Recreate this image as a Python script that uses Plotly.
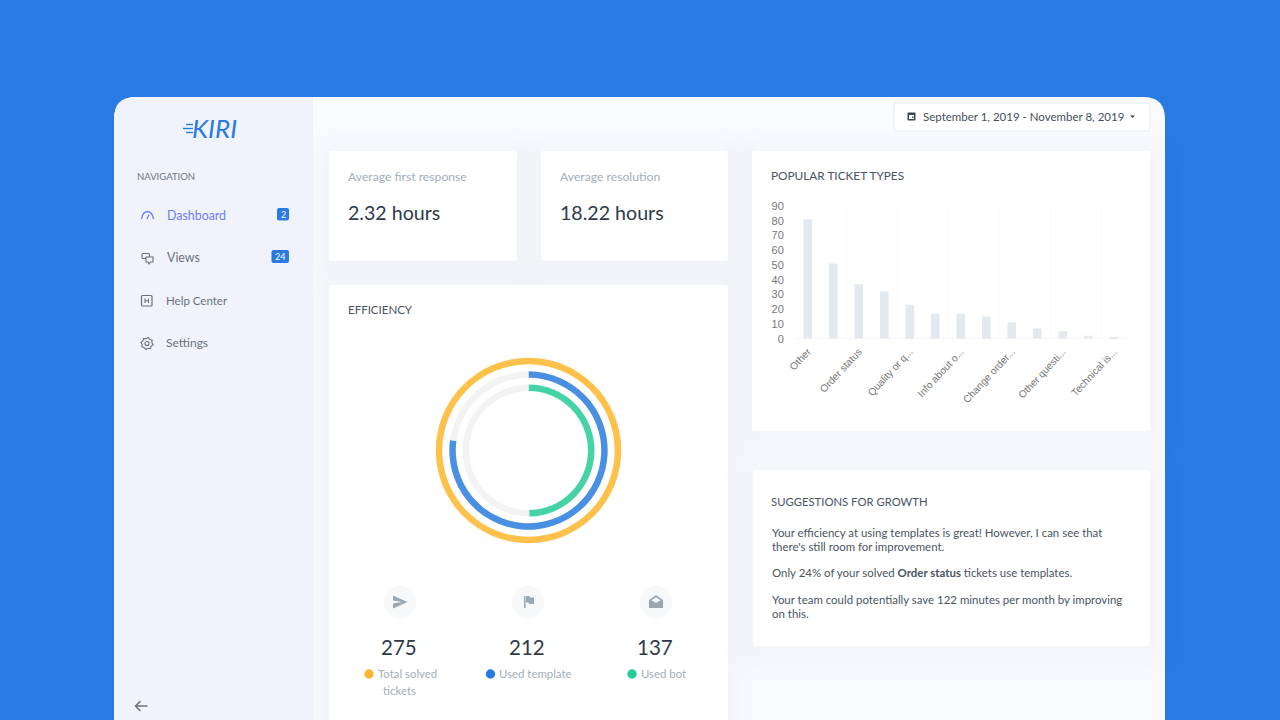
import math
import plotly.graph_objects as go

# popular ticket types (only every other label is shown on the axis)
ticket_labels = ['Other', '', 'Order status', '', 'Quality or q...', '', 'Info about o...', '',
                 'Change order...', '', 'Other questi...', '', 'Technical is...']
ticket_counts = [81, 51, 37, 32, 23, 17, 17, 15, 11, 7, 5, 2, 1]
y_ticks = [0, 10, 20, 30, 40, 50, 60, 70, 80, 90]

# efficiency rings, outer to inner
ring_names = ['Total solved tickets', 'Used template', 'Used bot']
ring_values = [275, 212, 137]
ring_total = 275

BLUE = '#2A7AE4'
FONT = 'Lato'
DARK = '#2F3A4A'
MID = '#4A5462'
GREY = '#A3AEB9'
W, H = 1280, 720

shapes = []
notes = []


def rrect(x0, y0, x1, y1, r, r_bottom=None):
    rb = r if r_bottom is None else r_bottom
    return (f'M{x0+r},{y0} L{x1-r},{y0} Q{x1},{y0} {x1},{y0+r} L{x1},{y1-rb} Q{x1},{y1} {x1-rb},{y1} '
            f'L{x0+rb},{y1} Q{x0},{y1} {x0},{y1-rb} L{x0},{y0+r} Q{x0},{y0} {x0+r},{y0} Z')


def path(d, fill=None, line=None, width=1.5, opacity=1):
    shapes.append(dict(type='path', path=d, xref='x', yref='y', layer='below', opacity=opacity,
                       fillcolor=fill or 'rgba(0,0,0,0)',
                       line=dict(color=line or 'rgba(0,0,0,0)', width=width if line else 0)))


def circle(cx, cy, r, fill=None, line=None, width=1.5):
    shapes.append(dict(type='circle', x0=cx-r, x1=cx+r, y0=cy-r, y1=cy+r, xref='x', yref='y', layer='below',
                       fillcolor=fill or 'rgba(0,0,0,0)',
                       line=dict(color=line or 'rgba(0,0,0,0)', width=width if line else 0)))


def label(x, y, text, size=13, color=MID, anchor='left', font=FONT):
    notes.append(dict(x=x - 0.8, y=y - 0.7, xref='x', yref='y', text=text, showarrow=False, xanchor=anchor,
                      yanchor='middle', align=anchor, borderpad=0, font=dict(family=font, size=size, color=color)))


def card(x0, y0, x1, y1):
    for grow in (30, 24, 18, 12, 7, 3):
        path(rrect(x0-grow, y0-grow+5, x1+grow, y1+grow+5, 6+grow), fill='#4A5A70', opacity=0.005)
    path(rrect(x0, y0, x1, y1, 3), fill='white')


# window
path(rrect(114, 97, 1165, 760, 22), fill='#F9FBFE')

card(329, 151, 517, 261)
card(541, 151, 728, 261)
card(329, 285, 728, 780)
card(752, 151, 1150, 431)
card(753, 470, 1150, 646)

# sidebar goes over the card shadows
path('M136,97 L313,97 L313,760 L114,760 L114,119 Q114,97 136,97 Z', fill='#F0F3FC')

# date picker
path(rrect(894, 103, 1150, 131, 3), fill='white', line='#E6E9EF', width=1)
path(rrect(907.5, 112.5, 915.5, 120.5, 1), fill='#3D4653')
path('M909,115 L914,115 L914,119 L909,119 Z', fill='white')
path('M912,116.5 L913.5,116.5 L913.5,118 L912,118 Z', fill='#3D4653')
path('M1130,115.5 L1135,115.5 L1132.5,118 Z', fill='#3D4653')
label(923, 117, 'September 1, 2019 - November 8, 2019', 11.5, '#464F5C')

# sidebar
label(215, 129, '<i>KIRI</i>', 26, BLUE, 'center')
for y, x0 in ((124.5, 186), (128.5, 183), (132.5, 186)):
    path(f'M{x0},{y} L193,{y}', line=BLUE, width=1.4)
label(137, 177, 'NAVIGATION', 9.5, '#6E7681')
label(167, 216, 'Dashboard', 12.4, '#6F7CF6')
label(167, 258, 'Views', 12.4, '#6A727E')
label(166, 301, 'Help Center', 11.5, '#6A727E')
label(166, 343, 'Settings', 12, '#6A727E')

path('M141.5,219 Q142.5,212 147.5,211.5 Q152.5,212 153.5,219', line='#6F7CF6', width=1.3)
path('M147,219 L149,214.5', line='#6F7CF6', width=1.2)
path(rrect(142, 253.5, 149.5, 258.5, 1), line='#6A727E', width=1.1)
path('M146,257 L153,257 L153,262 L150.5,262 L149,264 L148,262 L146,262 Z', fill='#F0F3FC', line='#6A727E', width=1.1)
path(rrect(141.5, 295.5, 152, 306, 1), line='#6A727E', width=1.2)
path('M145,298.5 L145,303 M148.5,298.5 L148.5,303 M145,300.7 L148.5,300.7', line='#6A727E', width=1.1)
gear = []
for i in range(16):
    ang = i * math.pi / 8 + math.pi / 16
    rad = 6.2 if i % 2 == 0 else 4.9
    gear.append(f'{"M" if i == 0 else "L"}{147 + rad*math.cos(ang):.2f},{343.5 + rad*math.sin(ang):.2f}')
path(' '.join(gear) + ' Z', line='#6A727E', width=1.1)
circle(147, 343.5, 2, line='#6A727E', width=1.1)

path(rrect(277, 208, 289, 220.5, 2), fill=BLUE)
label(283.8, 215, '2', 9, 'white', 'center')
path(rrect(271.5, 250, 289, 263, 2), fill=BLUE)
label(281, 257.2, '24', 9, 'white', 'center')
path('M147.5,706 L135.5,706 M140.5,701 L135.5,706 L140.5,711', line='#6A727E', width=1.5)

# stat cards
label(348, 177, 'Average first response', 12.2, GREY)
label(348, 213, '2.32 hours', 19.6, DARK)
label(559.5, 177, 'Average resolution', 12.2, GREY)
label(559.5, 213, '18.22 hours', 19.6, DARK)
label(348, 310, 'EFFICIENCY', 11.5, MID)
label(771, 176, 'POPULAR TICKET TYPES', 11.8, MID)

# ring summary
ICON = '#9AA8B4'
for cx in (400, 528, 656):
    circle(cx, 602, 16, fill='#F6F8FA')
path('M393,595.5 L407.5,602 L393,608.5 L393,603.5 L402,602 L393,600.5 Z', fill=ICON)
path('M524,596 L525.5,596 L525.5,608 L524,608 Z M526,596 L529,596 L530,597.5 L534,597.5 L534,604 L529.5,604 L528.5,602.5 L526,602.5 Z', fill=ICON)
path('M649,600 L656,595 L663,600 L663,608 L649,608 Z', fill=ICON)
path('M651.5,600.2 L656,597.2 L660.5,600.2 L656,603 Z', fill='#F6F8FA')

dot_colors = ['#FFB62E', BLUE, '#22CC92']
for cx, val in zip((400, 528, 656), ring_values):
    label(cx, 647.5, str(val), 20.5, DARK, 'center')
for cx, col in zip((369, 490.5, 632), dot_colors):
    circle(cx, 674, 4.7, fill=col)
label(378, 674, ring_names[0].replace(' tickets', ''), 11.4, GREY)
label(400, 691, 'tickets', 11.4, GREY, 'center')
label(499, 674, ring_names[1], 11.4, GREY)
label(641, 674, ring_names[2], 11.4, GREY)

# suggestions
label(771, 502, 'SUGGESTIONS FOR GROWTH', 11.3, MID)
label(771.5, 533.5, 'Your efficiency at using templates is great! However, I can see that', 11.45, MID)
label(771.5, 547, "there's still room for improvement.", 11.45, MID)
label(771.5, 573.5, 'Only 24% of your solved <b>Order status</b> tickets use templates.', 11.45, MID)
label(771.5, 600.5, 'Your team could potentially save 122 minutes per month by improving', 11.45, MID)
label(771.5, 614.5, 'on this.', 11.45, MID)

fig = go.Figure()

fig.add_trace(go.Bar(x=list(range(len(ticket_counts))), y=ticket_counts, xaxis='x2', yaxis='y2',
                     marker=dict(color='#E3E9EF', line=dict(width=0)), width=0.34, hoverinfo='skip'))

# rings: (outer radius, inner radius, colour) in pixels around the centre
CX, CY = 528.5, 450.5
ring_sizes = [(92.7, 86.2, '#FEC24C'), (79.2, 72.7, '#4A90E2'), (66, 59.5, '#45D3A5')]
for val, (ro, ri, col) in zip(ring_values, ring_sizes):
    fig.add_trace(go.Pie(values=[val, ring_total - val], sort=False, direction='clockwise', rotation=0,
                         hole=ri / ro, textinfo='none', hoverinfo='skip', showlegend=False,
                         marker=dict(colors=[col, '#F3F3F3'], line=dict(width=0)),
                         domain=dict(x=[(CX - ro) / W, (CX + ro) / W], y=[1 - (CY + ro) / H, 1 - (CY - ro) / H])))

shown = [i for i, t in enumerate(ticket_labels) if t]
fig.update_layout(
    width=W, height=H, margin=dict(l=0, r=0, t=0, b=0, autoexpand=False), autosize=False, showlegend=False,
    paper_bgcolor=BLUE, plot_bgcolor='rgba(0,0,0,0)',
    shapes=shapes, annotations=notes,
    # page-sized axes used to place the dashboard furniture in pixels
    xaxis=dict(range=[0, W], domain=[0, 1], visible=False, fixedrange=True),
    yaxis=dict(range=[H, 0], domain=[0, 1], visible=False, fixedrange=True),
    xaxis2=dict(domain=[795 / W, 1126.5 / W], range=[-0.5, 12.5], anchor='y2', fixedrange=True,
                tickmode='array', tickvals=shown, ticktext=[ticket_labels[i] for i in shown], tickangle=-47,
                tickfont=dict(family='Liberation Sans', size=10.2, color='#777777'),
                showgrid=False, zeroline=False, showline=False, ticks='outside', ticklen=2, tickcolor='rgba(0,0,0,0)',
                minor=dict(tickmode='array', tickvals=[i - 0.5 for i in shown], showgrid=True,
                           gridcolor='#FAFAFA', gridwidth=1, ticks='')),
    yaxis2=dict(domain=[1 - 338.7 / H, 1 - 206 / H], range=[0, 90], anchor='x2', fixedrange=True,
                tickmode='array', tickvals=y_ticks,
                tickfont=dict(family='Liberation Sans', size=11, color='#777777'),
                showgrid=False, zeroline=True, zerolinecolor='#F6F6F6', zerolinewidth=1, showline=False,
                ticks='outside', ticklen=8, tickcolor='rgba(0,0,0,0)'),
)

fig.write_html('out.html', config=dict(displayModeBar=False),
               post_script="document.body.style.margin='0';document.body.style.overflow='hidden';")
